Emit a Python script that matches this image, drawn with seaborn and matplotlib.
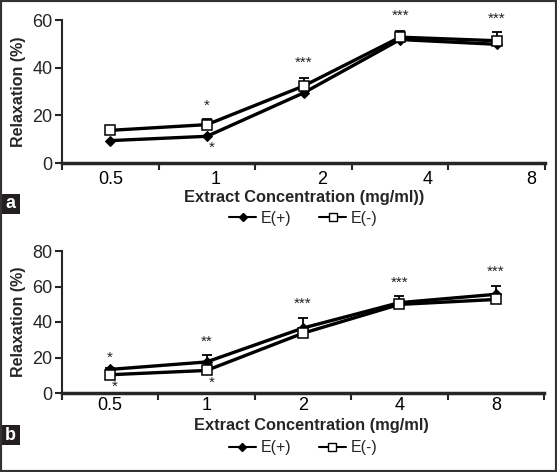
import pandas as pd
import seaborn as sns
import matplotlib.pyplot as plt
import matplotlib.patches as mpatches
import numpy as np

sns.set_style("white")
plt.rcParams['font.family'] = ['Liberation Sans', 'DejaVu Sans']

conc = ['0.5', '1', '2', '4', '8']

# panel a
a_plus = [9.4, 11.2, 29.4, 51.8, 49.8]
a_minus = [13.7, 16.1, 32.3, 52.8, 51.3]
a_minus_err = [1.2, 2.5, 3.2, 2.4, 3.5]
a_stars_top = ['', '*', '***', '***', '***']
a_stars_top_y = [0, 23.9, 41.9, 61.9, 60.6]
a_stars_bot = ['', '*', '', '', '']
a_stars_bot_y = [0, 6.3, 0, 0, 0]

# panel b
b_plus = [13.3, 17.5, 36.6, 50.9, 55.6]
b_minus = [10.3, 12.7, 33.7, 49.9, 52.7]
b_plus_err = [1.0, 3.8, 5.7, 3.7, 4.7]
b_stars_top = ['*', '**', '***', '***', '***']
b_stars_top_y = [19.8, 28.6, 50.5, 62.3, 68.3]
b_stars_bot = ['*', '*', '', '', '']
b_stars_bot_y = [3.6, 5.7, 0, 0, 0]


def draw_panel(ax, plus, minus, err, err_on, top, top_y, bot, bot_y,
               ymax, ystep, label_pos, tick_pad, xlabel, xlabel_xy):
    x = np.arange(len(conc))
    df = pd.DataFrame({'x': np.concatenate([x, x]),
                       'y': plus + minus,
                       'group': ['E(+)'] * len(x) + ['E(-)'] * len(x)})
    yerr_base = plus if err_on == 'plus' else minus
    ax.errorbar(x, yerr_base, yerr=[np.zeros(len(x)), err], fmt='none',
                ecolor='black', elinewidth=1.3, capsize=3.5, capthick=1.3, zorder=1)
    sns.lineplot(data=df, x='x', y='y', hue='group', style='group',
                 palette=['black', 'black'], markers={'E(+)': 'D', 'E(-)': 's'},
                 dashes=False, linewidth=2.4, ax=ax, legend=False, zorder=2)
    for ln in ax.get_lines():
        if ln.get_marker() == 'D':
            ln.set_markersize(5)
            ln.set_markerfacecolor('black')
            ln.set_markeredgecolor('black')
        elif ln.get_marker() == 's':
            ln.set_markersize(7)
            ln.set_markerfacecolor('white')
            ln.set_markeredgecolor('black')
            ln.set_markeredgewidth(1.1)
    for i in range(len(x)):
        if top[i]:
            ax.text(x[i], top_y[i], top[i], ha='center', va='center',
                    fontsize=11, color='#222222', clip_on=False)
        if bot[i]:
            ax.text(x[i] + 0.05, bot_y[i], bot[i], ha='center', va='center',
                    fontsize=11, color='#222222', clip_on=False)

    ax.set_xlim(-0.5, len(x) - 0.5)
    ax.set_ylim(0, ymax)
    ax.set_yticks(np.arange(0, ymax + 1, ystep))
    ax.set_xticks(np.arange(-0.5, len(x), 1.0))
    ax.set_xticklabels([])
    ax.set_xticks(label_pos, minor=True)
    ax.set_xticklabels(conc, minor=True)
    ax.tick_params(axis='x', which='major', direction='out', length=5,
                   width=1.5, bottom=True)
    ax.tick_params(axis='x', which='minor', length=0, labelsize=13,
                   pad=tick_pad, colors='black')
    ax.tick_params(axis='y', direction='out', length=5, width=1.5, left=True,
                   labelsize=13, pad=2)
    sns.despine(ax=ax)
    ax.spines['left'].set_linewidth(1.5)
    ax.spines['bottom'].set_linewidth(2.5)
    ax.set_xlabel(xlabel, fontsize=11.8, fontweight='bold')
    ax.xaxis.set_label_coords(*xlabel_xy)
    ax.xaxis.label.set_va('center')
    ax.set_ylabel('Relaxation (%)', fontsize=11.5, fontweight='bold', labelpad=4)

    h1 = plt.Line2D([], [], color='black', lw=1.5, marker='D', markersize=4.5,
                    markerfacecolor='black')
    h2 = plt.Line2D([], [], color='black', lw=1.5, marker='s', markersize=5.5,
                    markerfacecolor='white', markeredgewidth=1)
    ax.legend([h1, h2], ['E(+)', 'E(-)'], loc='center', ncol=2,
              bbox_to_anchor=(0.5, -0.385), frameon=False, fontsize=11.5,
              handlelength=1.7, handletextpad=0.3, columnspacing=1.7)


fig = plt.figure(figsize=(5.57, 4.72), dpi=100)
ax_a = fig.add_axes([62 / 557, 1 - 163 / 472, 483 / 557, 143 / 472])
ax_b = fig.add_axes([62 / 557, 1 - 393 / 472, 482 / 557, 142 / 472])

draw_panel(ax_a, a_plus, a_minus, a_minus_err, 'minus', a_stars_top,
           a_stars_top_y, a_stars_bot, a_stars_bot_y, 60, 20,
           [0, 1.09, 2.19, 3.28, 4.36], 6,
           'Extract Concentration (mg/ml))', (0.501, -0.24))
draw_panel(ax_b, b_plus, b_minus, b_plus_err, 'plus', b_stars_top,
           b_stars_top_y, b_stars_bot, b_stars_bot_y, 80, 20,
           [0, 1, 2, 3, 4], 3,
           'Extract Concentration (mg/ml)', (0.518, -0.232))

for letter, ytop in [('a', 194), ('b', 425)]:
    fig.patches.append(mpatches.Rectangle((0, 1 - (ytop + 20) / 472), 20 / 557,
                                          20 / 472, transform=fig.transFigure,
                                          facecolor='#231f20', edgecolor='none'))
    fig.text(10 / 557, 1 - (ytop + 10) / 472, letter, color='white',
             fontsize=13, fontweight='bold', ha='center', va='center')

fig.patches.append(mpatches.Rectangle((0, 0), 1, 1, transform=fig.transFigure,
                                      fill=False, edgecolor='#333333', lw=3))

fig.savefig('out.png', dpi=100)
